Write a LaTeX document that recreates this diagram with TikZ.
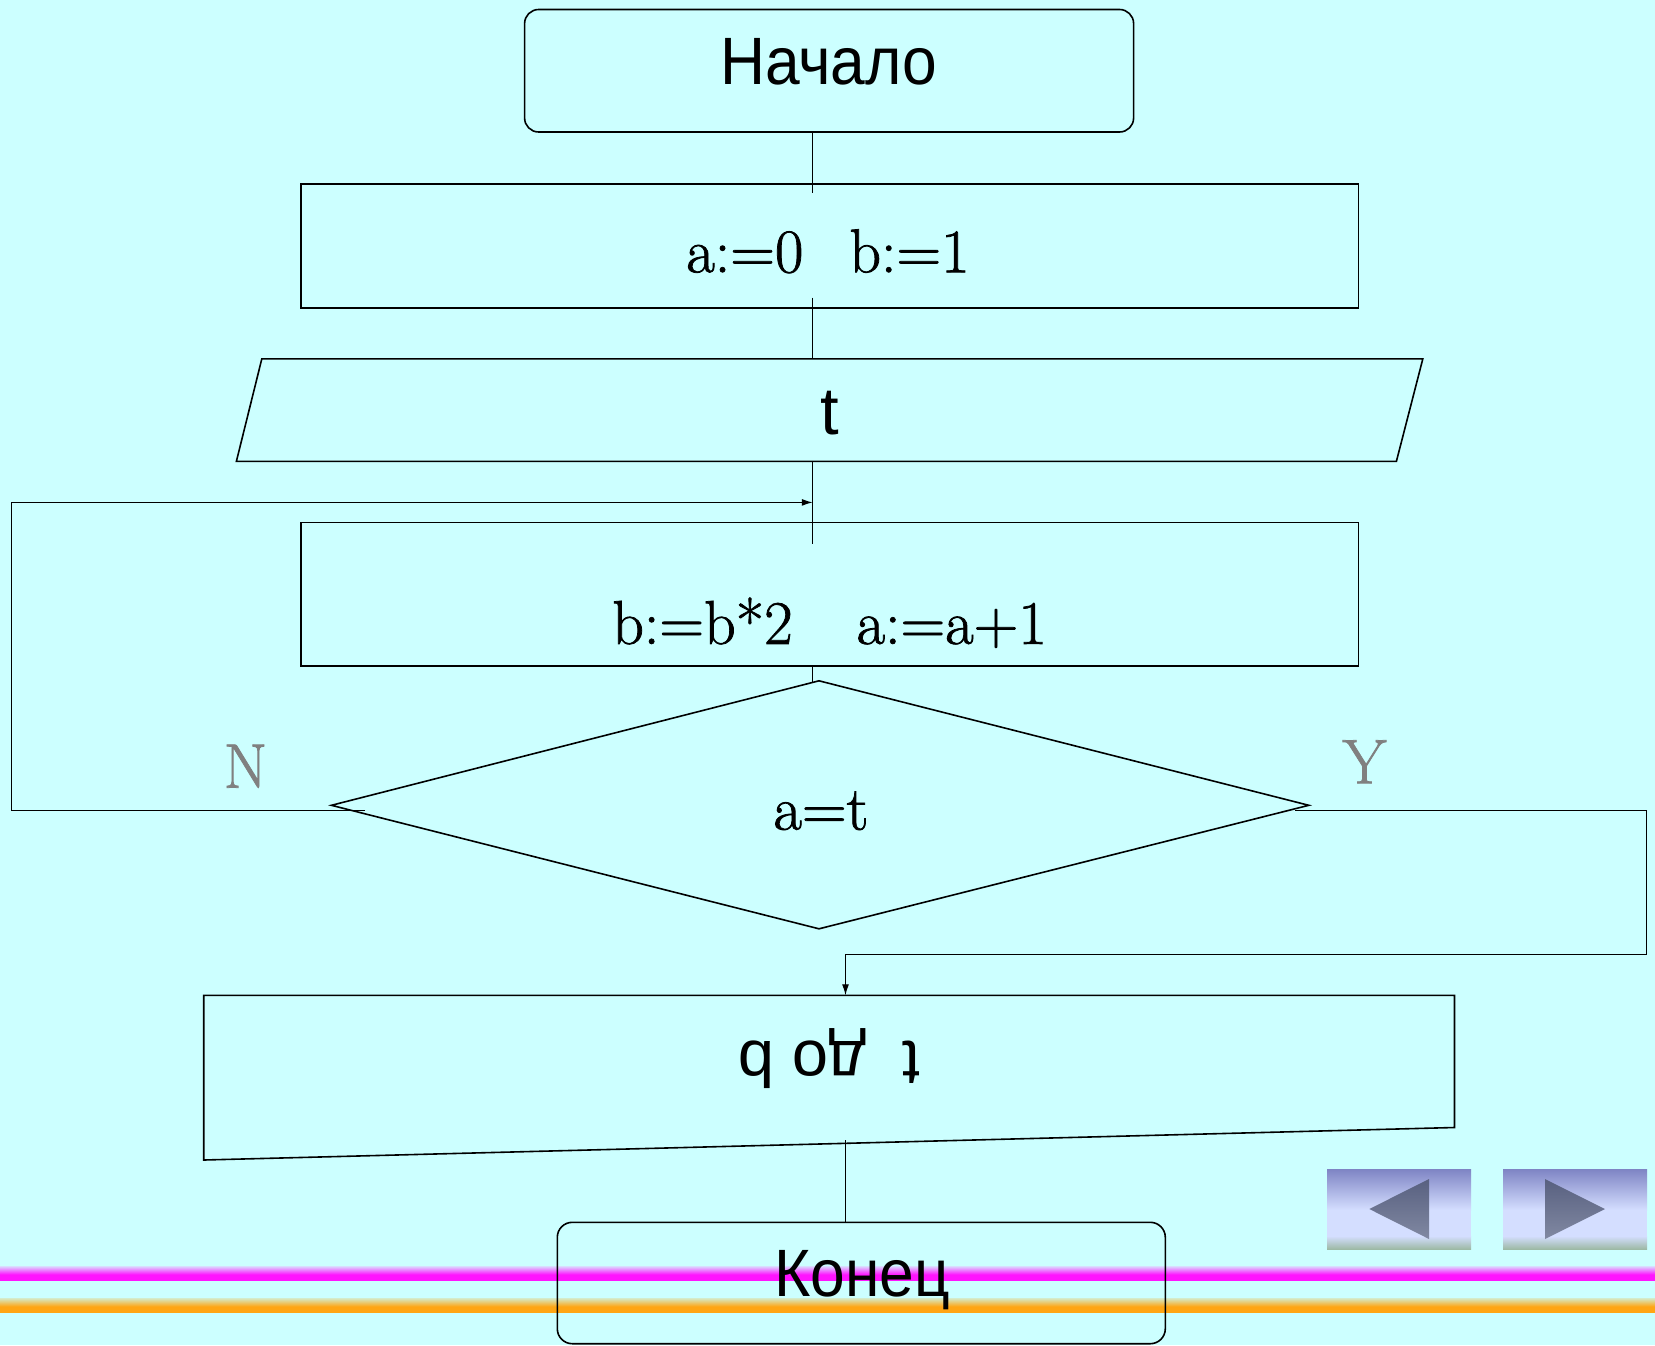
\documentclass[tikz,border=0pt]{standalone}
\usepackage{fontspec}
\usetikzlibrary{arrows.meta,calc}
\newfontfamily\sansfont{Liberation Sans}
\newfontfamily\serffont{Latin Modern Roman}[FakeBold=1.2]
\definecolor{bg}{HTML}{CCFFFF}
\definecolor{yngray}{HTML}{808080}
\definecolor{magsolid}{HTML}{FF14FF}
\definecolor{maglight}{HTML}{DCCCFF}
\definecolor{orsolid}{HTML}{FFA514}
\definecolor{orlight}{HTML}{D4ECCC}
\definecolor{btntop}{HTML}{7E84C4}
\definecolor{btnmid}{HTML}{D4DEFF}
\definecolor{btnbot}{HTML}{9DB9A5}
\definecolor{tritop}{HTML}{586080}
\definecolor{tribot}{HTML}{8189A2}
\begin{document}
\begin{tikzpicture}[x=1pt,y=-1pt,
  shapeline/.style={draw=black,line width=1.6pt},
  conn/.style={draw=black,line width=1.3pt},
  arr/.style={conn,-{Latex[length=11pt,width=7pt]}},
  boxnode/.style={shapeline,inner sep=0pt},
  sanstxt/.style={font=\sansfont\fontsize{67}{80}\selectfont,inner sep=0pt,anchor=base},
  serftxt/.style={font=\serffont\fontsize{62}{74}\selectfont,inner sep=0pt,anchor=base},
  yntxt/.style={font=\serffont\fontsize{63}{74}\selectfont,inner sep=0pt,anchor=base,text=yngray}
]
\fill[bg] (0,0) rectangle (1655,1345);
\useasboundingbox (0,0) rectangle (1655,1345);

% bottom stripes
\shade[top color=maglight,bottom color=magsolid] (0,1266.7) rectangle (1655,1274.5);
\fill[magsolid] (0,1274.5) rectangle (1655,1280.7);
\shade[top color=orlight,bottom color=orsolid] (0,1298) rectangle (1655,1306.5);
\fill[orsolid] (0,1306.5) rectangle (1655,1312.7);

% navigation buttons
\foreach \bx in {1327,1503}{
  \shade[top color=btntop,bottom color=btnmid] (\bx,1169) rectangle (\bx+144,1210);
  \fill[btnmid] (\bx,1210) rectangle (\bx+144,1236);
  \shade[top color=btnmid,bottom color=btnbot] (\bx,1236) rectangle (\bx+144,1249);
}
\shade[top color=tritop,bottom color=tribot] (1369.3,1209) -- (1429,1179) -- (1429,1239) -- cycle;
\shade[top color=tritop,bottom color=tribot] (1545,1179) -- (1605,1209) -- (1545,1239) -- cycle;

% start
\node[boxnode,rounded corners=14pt,minimum width=609pt,minimum height=122.5pt] (start) at (829.1,70.75) {};
\node[sanstxt,xscale=0.93] (starttxt) at (828.6,84.4) {Начало};

% init
\node[boxnode,minimum width=1057.6pt,minimum height=124.5pt] (init) at (829.6,246) {};
\node[serftxt] (inittxt) at (828,272.3) {a:=0\hspace{46pt}b:=1};

% input parallelogram
\coordinate (inTL) at (261.8,358.9);
\coordinate (inTR) at (1422.8,358.9);
\coordinate (inBR) at (1396.4,461.3);
\coordinate (inBL) at (236.4,461.3);
\draw[shapeline] (inTL) -- (inTR) -- (inBR) -- (inBL) -- cycle;
\node[sanstxt] (inputtxt) at (830,434.9) {t};

% loop body
\node[boxnode,minimum width=1057.6pt,minimum height=143.5pt] (body) at (829.6,594.25) {};
\node[serftxt] (bodytxt) at (829.5,643.9) {b:=b*2\hspace{64pt}a:=a+1};

% decision diamond
\coordinate (dT) at (819,680.8);
\coordinate (dL) at (331.4,805.3);
\coordinate (dR) at (1308.8,805.3);
\coordinate (dB) at (819,928.8);
\draw[shapeline] (dT) -- (dR) -- (dB) -- (dL) -- cycle;
\node[serftxt] (dectxt) at (821,829.6) {a=t};
\node[yntxt] (nlab) at (245.5,787.7) {N};
\node[yntxt] (ylab) at (1364.5,783.3) {Y};

% output box
\coordinate (oTL) at (203.7,995.3);
\coordinate (oTR) at (1454.5,995.3);
\coordinate (oBR) at (1454.5,1127.5);
\coordinate (oBL) at (203.7,1160);
\draw[shapeline] (oTL) -- (oTR) -- (oBR) -- (oBL) -- cycle;
\node[sanstxt,rotate=180,font=\sansfont\fontsize{65}{78}\selectfont] (outtxt) at (829,1041) {t\hspace{36pt}до b};

% end
\node[boxnode,rounded corners=15pt,minimum width=608pt,minimum height=121.4pt] (end) at (861.3,1283) {};
\node[sanstxt,xscale=0.93] (endtxt) at (862,1296) {Конец};

% connectors
\coordinate (c1a) at (812.8,132);
\coordinate (c1b) at (812.8,193.2);
\coordinate (c2a) at (812.8,297.6);
\coordinate (c2b) at (812.8,358.9);
\coordinate (c3a) at (812.8,461.3);
\coordinate (c3b) at (812.8,543.6);
\coordinate (c4a) at (812.8,666);
\coordinate (c4b) at (812.8,682.5);
\draw[conn] (c1a) -- (c1b);
\draw[conn] (c2a) -- (c2b);
\draw[conn] (c3a) -- (c3b);
\draw[conn] (c4a) -- (c4b);

% No branch loop
\coordinate (nstart) at (365,810.6);
\coordinate (nleft) at (11.6,810.6);
\coordinate (loopin) at (812.8,502.4);
\draw[arr] (nstart) -- (nleft) |- (loopin);

% Yes branch
\coordinate (ystart) at (1295,810.6);
\coordinate (yright) at (1646.6,810.6);
\coordinate (ydown) at (1646.6,954.2);
\coordinate (yin) at (845.5,954.2);
\coordinate (outtop) at (845.5,995.3);
\draw[arr] (ystart) -- (yright) -- (ydown) -- (yin) -- (outtop);

% output to end
\coordinate (c5a) at (845.5,1140);
\coordinate (c5b) at (845.5,1222.3);
\draw[conn] (c5a) -- (c5b);
\end{tikzpicture}
\end{document}
